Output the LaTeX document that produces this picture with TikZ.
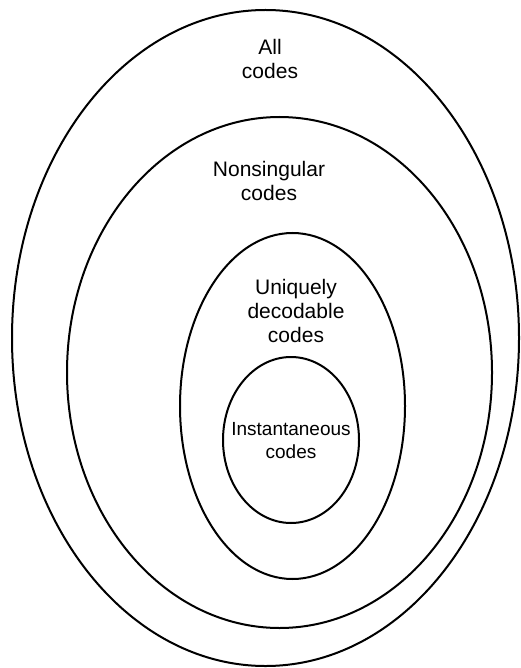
\documentclass[tikz,border=0pt]{standalone}
\usepackage{fontspec}
\setmainfont{Liberation Sans}
\usetikzlibrary{shapes.geometric}
\tikzset{
  setshape/.style={draw, ellipse, line width=2pt, inner sep=0pt},
  biglabel/.style={align=center, inner sep=0pt, font=\fontsize{21}{24}\selectfont},
  smalllabel/.style={align=center, inner sep=0pt, font=\fontsize{19}{23}\selectfont}
}
\begin{document}
\begin{tikzpicture}[x=1pt,y=-1pt]
\useasboundingbox (0,0) rectangle (520,668);
\node[setshape, minimum width=507pt, minimum height=656pt] (all) at (265.5,338) {};
\node[setshape, minimum width=425pt, minimum height=511pt] (nons) at (279.5,372.5) {};
\node[setshape, minimum width=225pt, minimum height=346pt] (ud) at (292.5,406) {};
\node[setshape, minimum width=136pt, minimum height=166pt] (inst) at (291,440) {};
\node[biglabel] (tall) at (270,58.5) {All\\codes};
\node[biglabel] (tnons) at (269,181) {Nonsingular\\codes};
\node[biglabel] (tud) at (296,310.7) {Uniquely\\decodable\\codes};
\node[smalllabel] (tinst) at (291,440.7) {Instantaneous\\codes};
\end{tikzpicture}
\end{document}
